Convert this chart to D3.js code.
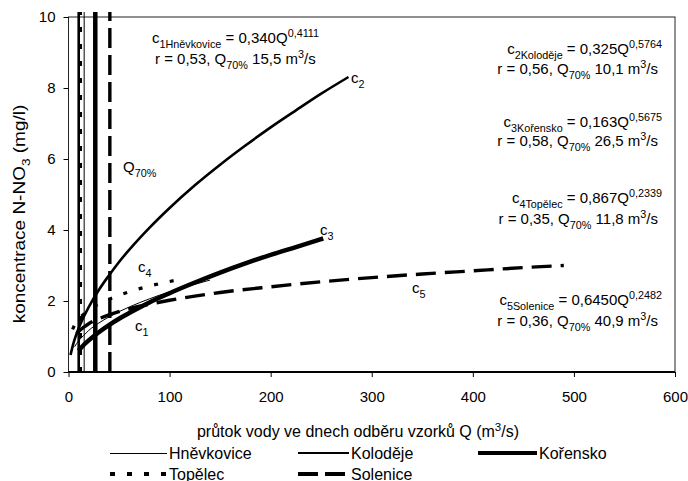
<!DOCTYPE html>
<html>
<head>
<meta charset="utf-8">
<style>
  body { margin: 0; background: #fff; }
  svg { display: block; font-family: "Liberation Sans", Arial, sans-serif; }
  .axis text { font-size: 15px; fill: #000; }
  .axis line { stroke: #000; }
  .axis .domain { display: none; }
</style>
</head>
<body>
<div id="chart"></div>
<script src="https://d3js.org/d3.v7.min.js"></script>
<script>
// stations and their Q70% discharges (m3/s)
var stations = ["Hněvkovice", "Koloděje", "Kořensko", "Topělec", "Solenice"];
var q70 = [15.5, 10.1, 26.5, 11.8, 40.9];

// curves: Q (m3/s) and c (mg/l)
var qHnevkovice = [6, 10, 15, 20, 30, 40, 50, 60, 70, 80, 100, 120, 140];
var cHnevkovice = [0.71, 0.88, 1.03, 1.17, 1.38, 1.55, 1.70, 1.83, 1.95, 2.06, 2.26, 2.43, 2.59];
var qKolodeje = [2, 5, 10, 15, 20, 30, 40, 50, 60, 80, 100, 125, 150, 175, 200, 225, 250, 277];
var cKolodeje = [0.48, 0.82, 1.23, 1.55, 1.83, 2.31, 2.72, 3.10, 3.44, 4.06, 4.62, 5.26, 5.84, 6.38, 6.89, 7.37, 7.84, 8.31];
var qKorensko = [10, 15, 20, 30, 40, 50, 60, 80, 100, 125, 150, 175, 200, 225, 252];
var cKorensko = [0.60, 0.76, 0.89, 1.12, 1.32, 1.50, 1.66, 1.96, 2.22, 2.52, 2.80, 3.06, 3.30, 3.52, 3.76];
var qTopelec = [4, 6, 10, 15, 20, 30, 40, 50, 60, 80, 100, 115];
var cTopelec = [1.20, 1.32, 1.49, 1.63, 1.75, 1.92, 2.05, 2.16, 2.26, 2.42, 2.55, 2.63];
var qSolenice = [8, 10, 15, 20, 30, 40, 60, 80, 100, 150, 200, 250, 300, 350, 400, 450, 490];
var cSolenice = [1.08, 1.14, 1.26, 1.36, 1.50, 1.61, 1.78, 1.91, 2.02, 2.24, 2.40, 2.54, 2.66, 2.76, 2.85, 2.94, 3.00];

var xTicks = [0, 100, 200, 300, 400, 500, 600];
var yTicks = [0, 2, 4, 6, 8, 10];

var series = [
  {name: stations[0], q: qHnevkovice, c: cHnevkovice, width: 1, dash: null, legDash: null},
  {name: stations[1], q: qKolodeje, c: cKolodeje, width: 2.6, dash: null, legDash: null},
  {name: stations[2], q: qKorensko, c: cKorensko, width: 4.5, dash: null, legDash: null},
  {name: stations[3], q: qTopelec, c: cTopelec, width: 3.2, dash: "4,12", legDash: "5,12"},
  {name: stations[4], q: qSolenice, c: cSolenice, width: 3.4, dash: "20,9", legDash: "20,7"}
];

var W = 688, H = 481;
var svg = d3.select("#chart").append("svg").attr("width", W).attr("height", H);

var x = d3.scaleLinear().domain([0, 600]).range([68.5, 675]);
var y = d3.scaleLinear().domain([0, 10]).range([372, 17]);

// plot frame
svg.append("rect")
    .attr("x", x(0)).attr("y", y(10))
    .attr("width", x(600) - x(0)).attr("height", y(0) - y(10))
    .attr("fill", "none").attr("stroke", "#222").attr("stroke-width", 1);

svg.append("g").attr("class", "x axis")
    .attr("transform", "translate(0," + y(0) + ")")
    .call(d3.axisBottom(x).tickValues(xTicks).tickSize(5).tickPadding(14).tickSizeOuter(0));

svg.append("g").attr("class", "y axis")
    .attr("transform", "translate(" + x(0) + ",0)")
    .call(d3.axisLeft(y).tickValues(yTicks).tickSize(5).tickPadding(8).tickSizeOuter(0));

svg.append("line")
    .attr("x1", x(0)).attr("x2", x(600)).attr("y1", y(0)).attr("y2", y(0))
    .attr("stroke", "#000").attr("stroke-width", 2);

// Q70% verticals
svg.selectAll("line.q70")
    .data(series)
  .enter().append("line")
    .attr("class", "q70")
    .attr("x1", function(d, i){ return x(q70[i]); })
    .attr("x2", function(d, i){ return x(q70[i]); })
    .attr("y1", y(0))
    .attr("y2", y(10.14))
    .attr("stroke", "#000")
    .attr("stroke-width", function(d){ return d.width; })
    .attr("stroke-dasharray", function(d){ return d.legDash; });

// curves
var line = d3.line()
    .x(function(p){ return x(p[0]); })
    .y(function(p){ return y(p[1]); })
    .curve(d3.curveMonotoneX);

svg.selectAll("path.curve")
    .data(series)
  .enter().append("path")
    .attr("class", "curve")
    .attr("d", function(d){ return line(d3.zip(d.q, d.c)); })
    .attr("fill", "none")
    .attr("stroke", "#000")
    .attr("stroke-width", function(d){ return d.width; })
    .attr("stroke-dasharray", function(d){ return d.dash; });

// text with sub/superscripts
function rich(parent, px, py, parts, size, anchor) {
  var t = parent.append("text")
      .attr("x", px).attr("y", py)
      .attr("font-size", size)
      .attr("text-anchor", anchor || "start");
  var shift = 0;
  parts.forEach(function(p) {
    var s = typeof p === "string" ? {t: p} : p;
    var target = s.sub ? size * 0.3 : s.sup ? -size * 0.4 : 0;
    t.append("tspan")
        .attr("dy", target - shift)
        .attr("font-size", s.sub || s.sup ? size * 0.72 : size)
        .text(s.t);
    shift = target;
  });
  return t;
}

var fs = 15;
rich(svg, 152, 43, ["c", {t: "1Hněvkovice", sub: 1}, " = 0,340Q", {t: "0,4111", sup: 1}], fs);
rich(svg, 155, 64, ["r = 0,53, Q", {t: "70%", sub: 1}, " 15,5 m", {t: "3", sup: 1}, "/s"], fs);

rich(svg, 662, 54, ["c", {t: "2Koloděje", sub: 1}, " = 0,325Q", {t: "0,5764", sup: 1}], fs, "end");
rich(svg, 658, 74, ["r = 0,56, Q", {t: "70%", sub: 1}, " 10,1 m", {t: "3", sup: 1}, "/s"], fs, "end");

rich(svg, 662, 127, ["c", {t: "3Kořensko", sub: 1}, " = 0,163Q", {t: "0,5675", sup: 1}], fs, "end");
rich(svg, 658, 146, ["r = 0,58, Q", {t: "70%", sub: 1}, " 26,5 m", {t: "3", sup: 1}, "/s"], fs, "end");

rich(svg, 662, 203, ["c", {t: "4Topělec", sub: 1}, " = 0,867Q", {t: "0,2339", sup: 1}], fs, "end");
rich(svg, 658, 224, ["r = 0,35, Q", {t: "70%", sub: 1}, " 11,8 m", {t: "3", sup: 1}, "/s"], fs, "end");

rich(svg, 662, 305, ["c", {t: "5Solenice", sub: 1}, " = 0,6450Q", {t: "0,2482", sup: 1}], fs, "end");
rich(svg, 658, 326, ["r = 0,36, Q", {t: "70%", sub: 1}, " 40,9 m", {t: "3", sup: 1}, "/s"], fs, "end");

// curve labels
rich(svg, 351, 83, ["c", {t: "2", sub: 1}], fs);
rich(svg, 320, 235, ["c", {t: "3", sub: 1}], fs);
rich(svg, 138, 272, ["c", {t: "4", sub: 1}], fs);
rich(svg, 135, 331, ["c", {t: "1", sub: 1}], fs);
rich(svg, 412, 293, ["c", {t: "5", sub: 1}], fs);
rich(svg, 123, 172, ["Q", {t: "70%", sub: 1}], fs);

// axis titles
rich(svg, 0, 0, ["koncentrace N-NO", {t: "3", sub: 1}, " (mg/l)"], 19, "middle")
    .attr("transform", "translate(25,214) rotate(-90) scale(1,0.84)");
rich(svg, 358, 437, ["průtok vody ve dnech odběru vzorků Q (m", {t: "3", sup: 1}, "/s)"], 16, "middle");

// legend
var legX = [110, 298, 478, 110, 298];
var legY = [453, 453, 453, 474, 474];
var legLen = [57, 51, 59, 57, 51];
var leg = svg.selectAll("g.leg")
    .data(series)
  .enter().append("g")
    .attr("class", "leg")
    .attr("transform", function(d, i){ return "translate(" + legX[i] + "," + legY[i] + ")"; });
leg.append("line")
    .attr("x1", 0).attr("x2", function(d, i){ return legLen[i]; })
    .attr("stroke", "#000")
    .attr("stroke-width", function(d){ return d.width; })
    .attr("shape-rendering", "crispEdges")
    .attr("stroke-dasharray", function(d){ return d.legDash; });
leg.append("text")
    .attr("x", function(d, i){ return legLen[i] + 2; })
    .attr("y", 5.5)
    .attr("font-size", 16)
    .text(function(d){ return d.name; });
</script>
</body>
</html>
